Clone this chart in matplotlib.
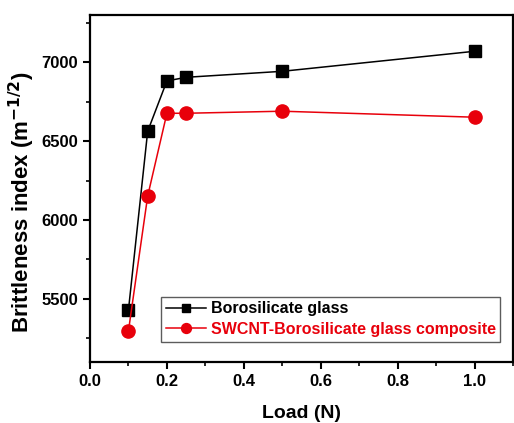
import matplotlib
matplotlib.use('Agg')
import matplotlib.pyplot as plt
from matplotlib.ticker import MultipleLocator

# Load (N) and brittleness index values
load = [0.1, 0.15, 0.2, 0.25, 0.5, 1.0]
boro = [5430, 6563, 6882, 6905, 6943, 7070]
swcnt = [5297, 6152, 6677, 6677, 6690, 6652]
labels = ['Borosilicate glass', 'SWCNT-Borosilicate glass composite']

plt.rcParams['font.family'] = ['Liberation Sans', 'DejaVu Sans']
plt.rcParams['font.weight'] = 'bold'

fig = plt.figure(figsize=(5.14, 4.23), dpi=100)
ax = fig.add_axes([90 / 514, 1 - 362 / 423, 423 / 514, (362 - 15) / 423])

ax.plot(load, boro, '-s', color='black', lw=1.1, ms=8.5, label=labels[0])
ax.plot(load, swcnt, '-o', color='#e8000b', lw=1.1, ms=9.5, label=labels[1])

ax.set_xlim(0, 1.1)
ax.set_ylim(5100, 7300)
ax.xaxis.set_major_locator(MultipleLocator(0.2))
ax.xaxis.set_minor_locator(MultipleLocator(0.1))
ax.yaxis.set_major_locator(MultipleLocator(500))
ax.yaxis.set_minor_locator(MultipleLocator(250))
ax.tick_params(which='major', direction='out', length=5, width=1.5, labelsize=12)
ax.tick_params(which='minor', direction='out', length=3, width=1.2)
for s in ax.spines.values():
    s.set_linewidth(1.6)

ax.set_xlabel('Load (N)', fontsize=14, fontweight='bold', labelpad=12)
ax.set_ylabel('Brittleness index (m$^{\\mathbf{-1/2}}$)', fontsize=16, fontweight='bold')
ax.yaxis.set_label_coords(-0.125, 0.46)

leg = ax.legend(loc='lower right', bbox_to_anchor=(0.989, 0.035), fontsize=11.5,
                frameon=True, fancybox=False, edgecolor='#333333', handlelength=2.5,
                borderpad=0.3, labelspacing=0.35, handletextpad=0.3, markerscale=0.75)
leg.get_frame().set_linewidth(1.0)
for t, c in zip(leg.get_texts(), ['black', '#e8000b']):
    t.set_color(c)
    t.set_fontweight('bold')

fig.savefig('out.png', dpi=100)
